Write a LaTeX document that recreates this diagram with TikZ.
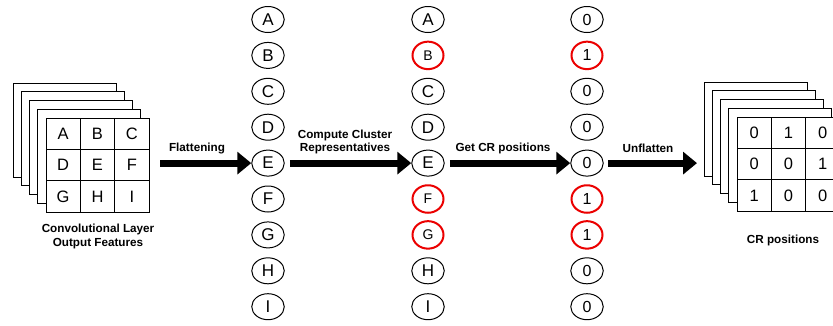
\documentclass[tikz,border=0pt]{standalone}
\usepackage{fontspec}
\setmainfont{Liberation Sans}
\usetikzlibrary{arrows.meta,shapes.geometric}
\definecolor{crred}{RGB}{235,0,0}

\begin{document}
\begin{tikzpicture}[x=1pt,y=-1pt,
  sheet/.style={draw=black,line width=0.9pt,fill=white,minimum width=103pt,
    minimum height=94pt,inner sep=0pt,outer sep=0pt,anchor=north west},
  gridline/.style={draw=black,line width=0.9pt},
  cell/.style={font=\fontsize{16.5}{19}\selectfont,inner sep=0pt},
  blob/.style={ellipse,draw=black,line width=1pt,minimum width=32.5pt,
    minimum height=26pt,inner sep=0pt,font=\fontsize{17}{20}\selectfont},
  cold/.style={},
  hot/.style={draw=crred,line width=2pt,minimum width=31pt,minimum height=27.5pt,
    font=\fontsize{14}{17}\selectfont},
  digit/.style={font=\fontsize{16}{19}\selectfont},
  txt/.style={font=\bfseries\fontsize{11.7}{13.5}\selectfont,inner sep=0pt,align=center},
  bigarrow/.style={line width=7pt,-{Triangle[length=14pt,width=22pt]}}
]
\useasboundingbox (0,0) rectangle (833,325);

% input feature maps (stacked sheets, front one holds the 3x3 grid)
\foreach \k in {0,...,4}
  \node[sheet] (L\k) at ({13+8.25*\k},{83+8.75*\k}) {};
% output position maps
\foreach \k in {0,...,4}
  \node[sheet] (R\k) at ({704+8.25*\k},{82+8.75*\k}) {};

\foreach \i in {1,2} {
  \draw[gridline] ([xshift=\i*34.33pt]L4.north west) -- ([xshift=\i*34.33pt]L4.south west);
  \draw[gridline] ([yshift=-\i*31.33pt]L4.north west) -- ([yshift=-\i*31.33pt]L4.north east);
  \draw[gridline] ([xshift=\i*34.33pt]R4.north west) -- ([xshift=\i*34.33pt]R4.south west);
  \draw[gridline] ([yshift=-\i*31.33pt]R4.north west) -- ([yshift=-\i*31.33pt]R4.north east);
}

\foreach \t [count=\n from 0] in {A,B,C,D,E,F,G,H,I} {
  \pgfmathtruncatemacro\ci{mod(\n,3)}
  \pgfmathtruncatemacro\rj{div(\n,3)}
  \node[cell] (Lc\n) at ([xshift={(\ci+0.5)*34.33pt},yshift={-(\rj+0.5)*31.33pt}]L4.north west) {\t};
}
\foreach \t [count=\n from 0] in {0,1,0,0,0,1,1,0,0} {
  \pgfmathtruncatemacro\ci{mod(\n,3)}
  \pgfmathtruncatemacro\rj{div(\n,3)}
  \node[cell] (Rc\n) at ([xshift={(\ci+0.5)*34.33pt},yshift={-(\rj+0.5)*31.33pt}]R4.north west) {\t};
}

% flattened vectors
\foreach \t [count=\n from 0] in {A,B,C,D,E,F,G,H,I}
  \node[blob] (a\n) at (268,{19.5+35.9*\n}) {\t};
\foreach \t/\s [count=\n from 0] in {A/cold,B/hot,C/cold,D/cold,E/cold,F/hot,G/hot,H/cold,I/cold}
  \node[blob,\s] (b\n) at (428,{19.5+35.9*\n}) {\t};
\foreach \t/\s [count=\n from 0] in {0/cold,1/hot,0/cold,0/cold,0/cold,1/hot,1/hot,0/cold,0/cold}
  \node[blob,\s,digit] (c\n) at (587,{19.5+35.9*\n}) {\t};

% processing arrows
\coordinate (f0) at (L4.east |- a4);
\coordinate (u0) at (R0.west |- c4);
\draw[bigarrow] ([xshift=11pt]f0) -- (a4.west);
\draw[bigarrow] ([xshift=5pt]a4.east) -- (b4.west);
\draw[bigarrow] ([xshift=5pt]b4.east) -- (c4.west);
\draw[bigarrow] ([xshift=4pt]c4.east) -- ([xshift=-7pt]u0);

% captions
\node[txt,anchor=base] (t1) at (197,151) {Flattening};
\node[txt] (t2) at (345,142) {Compute Cluster\\Representatives};
\node[txt,anchor=base] (t3) at (503,151) {Get CR positions};
\node[txt,anchor=base] (t4) at (648,152) {Unflatten};
\node[txt] (t5) at (98,236.5) {Convolutional Layer\\Output Features};
\node[txt,anchor=base] (t6) at (783,243) {CR positions};
\end{tikzpicture}
\end{document}
